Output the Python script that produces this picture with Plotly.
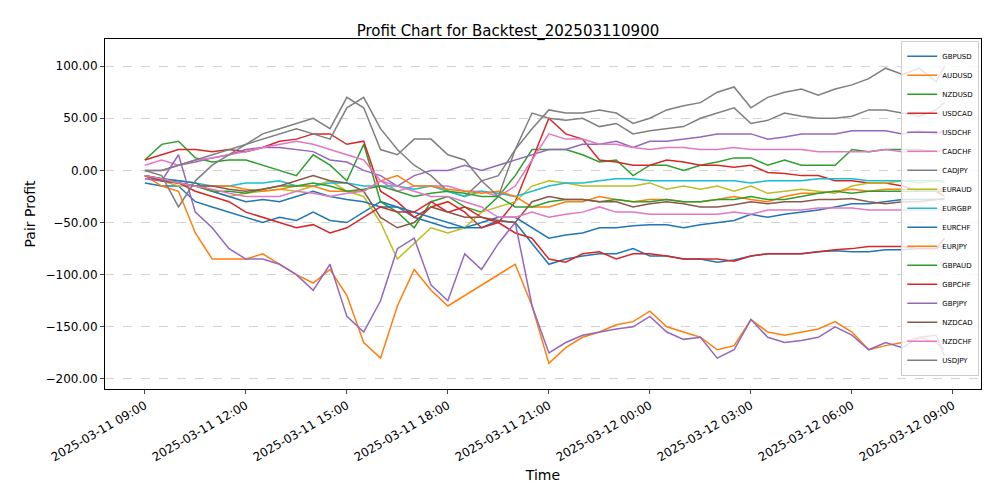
import pandas as pd
import plotly.graph_objects as go

# 30-minute samples from 2025-03-11 09:00, last one at 08:45 next day
times = list(pd.date_range("2025-03-11 09:00", "2025-03-12 08:30", freq="30min")) + [pd.Timestamp("2025-03-12 08:45")]

GBPUSD = [-12, -15, -15, -30, -35, -40, -45, -50, -45, -48, -40, -48, -50, -40, -30, -35, -45, -50, -55, -55, -55, -48, -50, -70, -90, -85, -82, -80, -80, -75, -82, -82, -85, -85, -88, -86, -82, -80, -80, -80, -78, -77, -78, -78, -76, -76, -75, -75, -72]
AUDUSD = [-5, -15, -20, -60, -85, -85, -85, -80, -90, -100, -108, -95, -120, -165, -180, -130, -95, -115, -130, -120, -110, -100, -90, -130, -185, -170, -160, -155, -148, -145, -135, -150, -155, -160, -172, -168, -143, -155, -158, -155, -152, -145, -155, -172, -168, -165, -160, -165, -172]
NZDUSD = [10, 25, 28, 12, 8, 10, 10, 5, 0, -5, 15, 5, -10, 25, -30, -40, -55, -30, -25, -35, -40, -25, -5, 20, 20, 20, 15, 8, 10, -5, 5, 5, 0, 5, 8, 12, 12, 5, 10, 5, 5, 5, 20, 18, 20, 20, 20, 18, 20]
USDCAD = [10, 15, 20, 20, 18, 20, 18, 22, 28, 30, 35, 35, 25, 28, -20, -30, -45, -35, -30, -40, -55, -50, -30, 10, 50, 35, 30, 10, 8, 5, 5, 10, 8, 5, 5, 3, 5, -2, -3, -5, -5, -10, -10, -12, -12, -15, -20, -20, -25]
USDCHF = [0, 0, 5, 8, 12, 15, 20, 22, 22, 20, 18, 10, 8, 0, -5, -15, -5, 0, 0, 5, 0, 5, 10, 15, 20, 20, 25, 25, 28, 22, 28, 28, 30, 32, 35, 35, 35, 30, 32, 35, 35, 35, 38, 38, 38, 35, 38, 35, 38]
CADCHF = [5, 10, 5, 10, 12, 15, 18, 22, 25, 28, 25, 20, 15, 10, -10, -20, -15, -15, -15, -20, -20, -25, -15, 10, 35, 30, 30, 25, 25, 22, 20, 22, 22, 20, 20, 22, 20, 20, 20, 20, 18, 18, 18, 18, 20, 18, 18, 18, 20]
CADJPY = [0, 0, 5, 10, 15, 20, 25, 30, 35, 40, 35, 30, 60, 70, 40, 20, 5, -5, -20, -25, -10, -5, 20, 55, 50, 48, 50, 42, 45, 35, 38, 40, 42, 50, 55, 60, 45, 48, 55, 52, 50, 50, 52, 58, 58, 55, 52, 58, 65]
EURAUD = [-5, -10, -15, -15, -20, -25, -22, -20, -18, -20, -15, -10, -20, -25, -50, -85, -70, -55, -60, -55, -40, -35, -30, -15, -10, -12, -15, -15, -15, -15, -12, -18, -15, -18, -15, -20, -15, -22, -20, -18, -20, -22, -15, -12, -12, -10, -12, -10, -12]
EURGBP = [-5, -8, -10, -12, -15, -15, -12, -12, -10, -15, -15, -12, -12, -15, -15, -15, -18, -15, -20, -25, -20, -22, -25, -20, -15, -12, -12, -10, -8, -8, -10, -10, -10, -10, -10, -10, -12, -10, -10, -10, -8, -8, -8, -10, -10, -10, -10, -10, -10]
EURCHF = [-5, -8, -10, -12, -20, -25, -30, -28, -30, -25, -20, -25, -28, -30, -35, -35, -40, -45, -50, -55, -50, -45, -45, -55, -65, -62, -60, -55, -55, -53, -52, -52, -55, -52, -50, -48, -42, -45, -42, -40, -38, -35, -32, -32, -30, -28, -28, -28, -27]
EURJPY = [-5, -8, -12, -15, -15, -15, -18, -20, -18, -15, -15, -20, -20, -20, -10, -5, -15, -15, -18, -20, -22, -20, -25, -35, -35, -30, -30, -25, -28, -30, -28, -28, -30, -30, -28, -25, -28, -30, -25, -22, -22, -20, -18, -20, -18, -18, -18, -18, -18]
GBPAUD = [-5, -8, -12, -15, -20, -20, -22, -18, -15, -15, -12, -15, -20, -18, -15, -20, -25, -22, -20, -22, -25, -25, -35, -35, -30, -28, -28, -30, -28, -30, -30, -28, -30, -30, -28, -28, -25, -28, -28, -25, -22, -20, -22, -20, -20, -20, -20, -20, -20]
GBPCHF = [-5, -10, -12, -20, -25, -30, -40, -45, -50, -55, -52, -60, -55, -45, -35, -40, -40, -30, -40, -35, -45, -50, -60, -65, -85, -88, -80, -78, -85, -80, -80, -82, -85, -85, -85, -87, -82, -80, -80, -80, -78, -76, -75, -73, -73, -73, -75, -75, -65]
GBPJPY = [-8, -10, 15, -40, -55, -75, -85, -85, -90, -100, -115, -90, -140, -155, -125, -75, -65, -110, -125, -80, -95, -70, -50, -130, -175, -165, -158, -155, -152, -150, -140, -155, -162, -160, -180, -172, -143, -160, -165, -163, -160, -150, -158, -172, -165, -170, -160, -158, -178]
NZDCAD = [-5, -10, -12, -15, -15, -18, -20, -18, -15, -10, -5, -10, -12, -20, -45, -55, -50, -35, -40, -45, -45, -48, -50, -30, -25, -28, -28, -30, -30, -35, -32, -30, -32, -35, -35, -33, -30, -32, -30, -30, -28, -28, -27, -30, -32, -30, -30, -28, -28]
NZDCHF = [-5, -8, -12, -15, -18, -22, -25, -25, -25, -20, -22, -25, -22, -20, -10, -15, -20, -25, -25, -30, -35, -45, -45, -40, -45, -42, -40, -35, -40, -40, -42, -42, -42, -42, -42, -40, -42, -38, -38, -38, -36, -36, -36, -38, -38, -38, -38, -38, -38]
USDJPY = [0, -5, -35, -10, 5, 15, 25, 35, 40, 45, 50, 40, 70, 60, 20, 15, 30, 30, 15, 10, -10, -25, 20, 40, 58, 55, 55, 58, 55, 45, 50, 58, 62, 65, 75, 80, 60, 70, 75, 78, 72, 78, 82, 88, 98, 92, 98, 85, 100]

pairs = ["GBPUSD", "AUDUSD", "NZDUSD", "USDCAD", "USDCHF", "CADCHF", "CADJPY", "EURAUD",
         "EURGBP", "EURCHF", "EURJPY", "GBPAUD", "GBPCHF", "GBPJPY", "NZDCAD", "NZDCHF", "USDJPY"]
series = [GBPUSD, AUDUSD, NZDUSD, USDCAD, USDCHF, CADCHF, CADJPY, EURAUD,
          EURGBP, EURCHF, EURJPY, GBPAUD, GBPCHF, GBPJPY, NZDCAD, NZDCHF, USDJPY]
colors = ["#1f77b4", "#ff7f0e", "#2ca02c", "#d62728", "#9467bd", "#e377c2", "#7f7f7f", "#bcbd22",
          "#17becf", "#1f77b4", "#ff7f0e", "#2ca02c", "#d62728", "#9467bd", "#8c564b", "#e377c2", "#7f7f7f"]

fig = go.Figure()
for name, vals, c in zip(pairs, series, colors):
    fig.add_trace(go.Scatter(x=times, y=vals, mode="lines", name=name, line=dict(color=c, width=1.5)))

fig.update_layout(
    width=1000, height=500,
    paper_bgcolor="white", plot_bgcolor="white",
    font=dict(family="DejaVu Sans", size=12, color="black"),
    title=dict(text="Profit Chart for Backtest_202503110900", x=0.5, y=0.965, xanchor="center", font=dict(size=15)),
    margin=dict(l=97, r=27, t=31, b=119),
    legend=dict(x=0.998, y=0.995, xanchor="right", yanchor="top", bgcolor="rgba(255,255,255,0.8)",
                bordercolor="#cccccc", borderwidth=1, font=dict(size=7), tracegroupgap=0,
                itemwidth=30),
)
fig.update_xaxes(
    range=["2025-03-11 07:49", "2025-03-12 09:50"],
    tickvals=list(pd.date_range("2025-03-11 09:00", "2025-03-12 09:00", freq="3h")),
    tickformat="%Y-%m-%d %H:%M", tickangle=-30, ticks="outside", ticklen=4,
    showgrid=False, showline=True, linecolor="black", mirror=True, zeroline=False,
    title=dict(text="Time", standoff=6), tickfont=dict(size=12),
)
fig.update_yaxes(
    range=[-209.6, 126], tickvals=[-200, -150, -100, -50, 0, 50, 100], tickformat=".2f",
    ticks="outside", ticklen=4, showgrid=True, gridcolor="#d3d3d3", griddash="dash",
    showline=True, linecolor="black", mirror=True, zeroline=False,
    title=dict(text="Pair Profit", standoff=6), tickfont=dict(size=12),
)
fig.write_html("out.html")
